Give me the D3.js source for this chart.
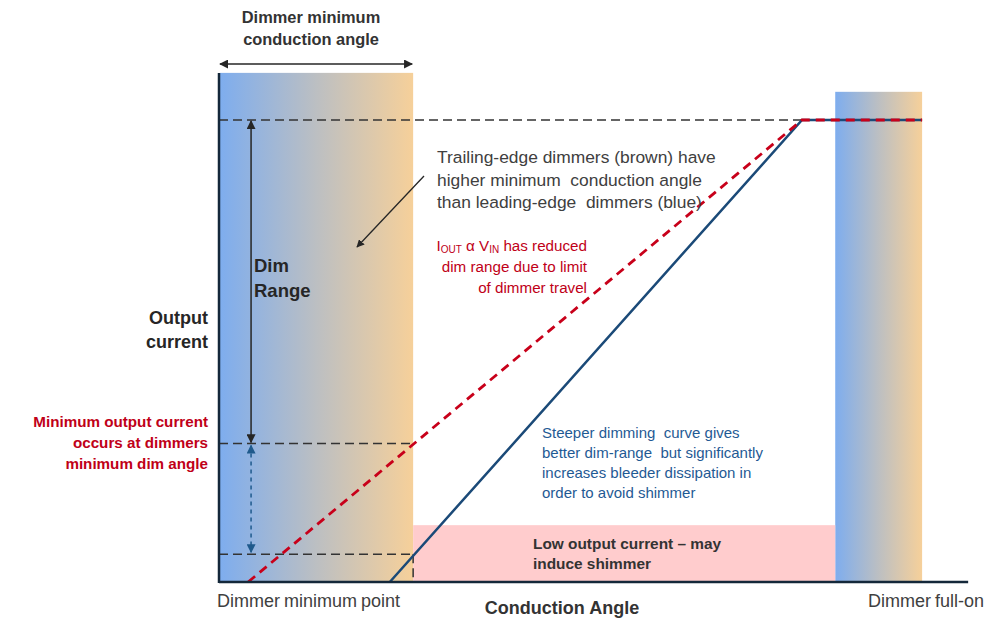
<!DOCTYPE html>
<html><head><meta charset="utf-8">
<script src="https://cdn.jsdelivr.net/npm/d3@7"></script>
<style>body{margin:0;background:#fff}svg{display:block;font-family:"Liberation Sans",Arial,sans-serif}text{white-space:pre}</style>
</head><body><svg id="c" width="1000" height="630"></svg>
<script>
// Schematic values (conduction angle %, output current %)
const levels = {full: 100, redAtMin: 30, blueAtMin: 6, lowCurrent: 12.3};
const bandLeft = [0, 33.3];          // dimmer minimum conduction angle band
const bandRight = [105.7, 120.6];    // dimmer full-on band
const bandLeftTop = 110.2, bandRightTop = 106.1;
const redCurve = [[5, 0], [100, 100], [120.6, 100]];   // I_OUT α V_IN
const blueCurve = [[29.3, 0], [100, 100], [120.6, 100]]; // steeper curve
const xAxisEnd = 128.5;

const svg = d3.select("#c");
const x = d3.scaleLinear().domain([0, 100]).range([219, 802]);
const y = d3.scaleLinear().domain([0, 100]).range([582, 120]);

const defs = svg.append("defs");
const g = defs.append("linearGradient").attr("id", "grad").attr("x1", 0).attr("x2", 1).attr("y1", 0).attr("y2", 0);
g.append("stop").attr("offset", "0%").attr("stop-color", "#7eadee");
g.append("stop").attr("offset", "50%").attr("stop-color", "#bcbfc2");
g.append("stop").attr("offset", "100%").attr("stop-color", "#f6d09a");
function marker(id, color) {
  defs.append("marker").attr("id", id).attr("viewBox", "0 0 10 10").attr("refX", 9).attr("refY", 5)
    .attr("markerWidth", 6).attr("markerHeight", 6).attr("orient", "auto-start-reverse")
    .append("path").attr("d", "M0,0L10,5L0,10z").attr("fill", color);
}
marker("ab", "#262626"); marker("abl", "#1f5a8c");

// bands
svg.append("rect").attr("x", x(bandLeft[0]) + 1).attr("y", y(bandLeftTop)).attr("width", x(bandLeft[1]) - x(bandLeft[0]) - 1)
  .attr("height", y(0) - y(bandLeftTop)).attr("fill", "url(#grad)");
svg.append("rect").attr("x", x(bandRight[0])).attr("y", y(bandRightTop)).attr("width", x(bandRight[1]) - x(bandRight[0]))
  .attr("height", y(0) - y(bandRightTop)).attr("fill", "url(#grad)");
svg.append("rect").attr("x", x(bandLeft[1])).attr("y", y(levels.lowCurrent)).attr("width", x(bandRight[0]) - x(bandLeft[1]))
  .attr("height", y(0) - y(levels.lowCurrent)).attr("fill", "#ffcccd");

// dashed guide lines
const dash = "9,5";
function dl(x1, y1, x2, y2) {
  svg.append("line").attr("x1", x1).attr("y1", y1).attr("x2", x2).attr("y2", y2)
    .attr("stroke", "#333").attr("stroke-width", 1.5).attr("stroke-dasharray", dash);
}
dl(x(0), y(levels.full), x(100), y(levels.full));
dl(x(0), y(levels.redAtMin), x(bandLeft[1]), y(levels.redAtMin));
dl(x(0), y(levels.blueAtMin), x(bandLeft[1]), y(levels.blueAtMin));
dl(x(bandLeft[1]), y(levels.blueAtMin), x(bandLeft[1]), y(0));

// curves
const line = d3.line().x(d => x(d[0])).y(d => y(d[1]));
svg.append("path").attr("d", line(blueCurve)).attr("fill", "none").attr("stroke", "#1b4a78").attr("stroke-width", 2.5);
svg.append("path").attr("d", line(redCurve)).attr("fill", "none").attr("stroke", "#c8001a").attr("stroke-width", 2.8).attr("stroke-dasharray", "9,6");

// axes
svg.append("line").attr("x1", x(0)).attr("y1", y(bandLeftTop)).attr("x2", x(0)).attr("y2", y(0) + 1).attr("stroke", "#14283a").attr("stroke-width", 2.5);
svg.append("line").attr("x1", x(0)).attr("y1", y(0)).attr("x2", x(xAxisEnd)).attr("y2", y(0)).attr("stroke", "#14283a").attr("stroke-width", 2.5);

// arrows
const dimX = x(5.5);
svg.append("line").attr("x1", dimX).attr("y1", y(levels.full) + 1).attr("x2", dimX).attr("y2", y(levels.redAtMin) - 1)
  .attr("stroke", "#262626").attr("stroke-width", 1.5).attr("marker-start", "url(#ab)").attr("marker-end", "url(#ab)");
svg.append("line").attr("x1", dimX).attr("y1", y(levels.redAtMin) + 2).attr("x2", dimX).attr("y2", y(levels.blueAtMin) - 2)
  .attr("stroke", "#1f5a8c").attr("stroke-width", 1.5).attr("stroke-dasharray", "4,4").attr("marker-start", "url(#abl)").attr("marker-end", "url(#abl)");
svg.append("line").attr("x1", x(0) + 1).attr("y1", 64).attr("x2", x(bandLeft[1]) - 1).attr("y2", 64)
  .attr("stroke", "#262626").attr("stroke-width", 1.5).attr("marker-start", "url(#ab)").attr("marker-end", "url(#ab)");
svg.append("line").attr("x1", 424).attr("y1", 176).attr("x2", 357).attr("y2", 247)
  .attr("stroke", "#262626").attr("stroke-width", 1.3).attr("marker-end", "url(#ab)");

// texts
function txt(lines, tx, ty, lh, opts) {
  const t = svg.append("text").attr("x", tx).attr("y", ty).attr("text-anchor", opts.anchor || "start")
    .attr("font-size", opts.size).attr("font-weight", opts.bold ? "bold" : "normal").attr("fill", opts.color)
    .attr("word-spacing", opts.ws || 0);
  lines.forEach((l, i) => t.append("tspan").attr("x", tx).attr("y", ty + i * lh).text(l));
  return t;
}
txt(["Dimmer minimum", "conduction angle"], 311, 23, 22, {anchor: "middle", size: 16.4, bold: true, color: "#333"});
txt(["Output", "current"], 208, 324, 24, {anchor: "end", size: 18, bold: true, color: "#262626"});
txt(["Minimum output current", "occurs at dimmers", "minimum dim angle"], 208, 427, 21, {anchor: "end", size: 15.2, bold: true, color: "#c00018"});
txt(["Dim", "Range"], 254, 272, 25, {size: 18.5, bold: true, color: "#262626"});
txt(["Trailing-edge dimmers (brown) have", "higher minimum  conduction angle", "than leading-edge  dimmers (blue)"], 437, 163, 22.5, {size: 17.4, color: "#404040"});
// red with subscripts
const r1 = svg.append("text").attr("x", 587).attr("y", 251).attr("text-anchor", "end").attr("font-size", 15.2).attr("fill", "#c00018");
r1.append("tspan").text("I");
r1.append("tspan").attr("font-size", 10).attr("dy", 2).text("OUT");
r1.append("tspan").attr("dy", -2).text(" α V");
r1.append("tspan").attr("font-size", 10).attr("dy", 2).text("IN");
r1.append("tspan").attr("dy", -2).text(" has reduced");
txt(["dim range due to limit", "of dimmer travel"], 587, 272, 21, {anchor: "end", size: 15.2, color: "#c00018"});
txt(["Steeper dimming  curve gives", "better dim-range  but significantly", "increases bleeder dissipation in", "order to avoid shimmer"], 542, 438, 20, {size: 15, color: "#1f5a94"});
txt(["Low output current – may", "induce shimmer"], 533, 549, 19.5, {size: 15.4, bold: true, color: "#333"});
txt(["Conduction Angle"], 562, 614, 20, {anchor: "middle", size: 18, bold: true, color: "#333"});
txt(["Dimmer minimum point"], 217, 607, 20, {size: 18, color: "#404040", ws: -1});
txt(["Dimmer full-on"], 868, 607, 20, {size: 18, color: "#404040", ws: -1});
</script></body></html>
